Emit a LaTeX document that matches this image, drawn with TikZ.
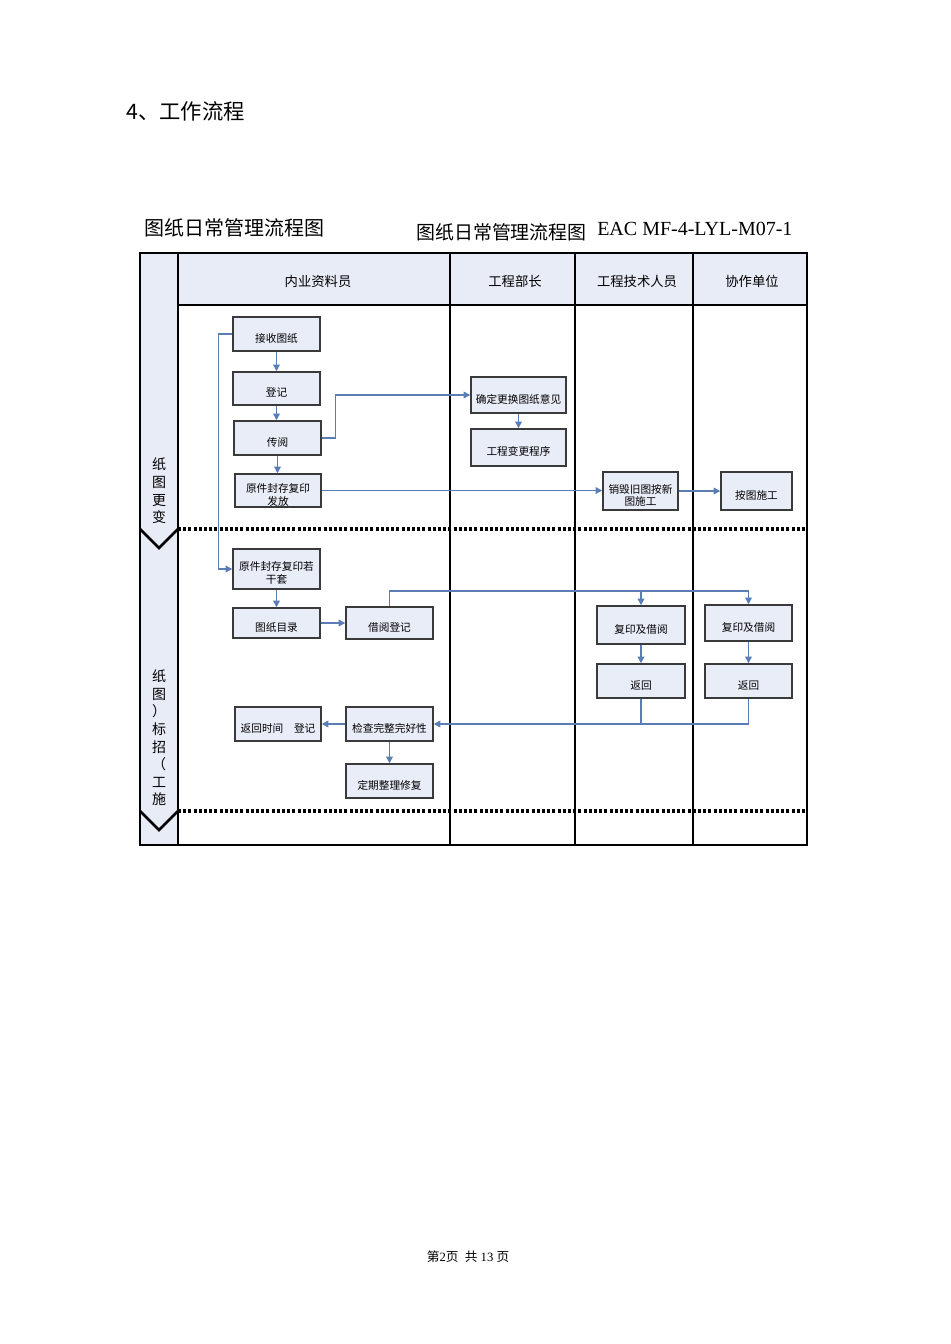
\documentclass[tikz,border=0pt]{standalone}
\usepackage{fontspec}
\setmainfont{Liberation Serif}
\newfontfamily\cjk{Noto Sans CJK SC}
\usetikzlibrary{arrows.meta}
\definecolor{boxfill}{HTML}{E9EDF8}
\definecolor{lanefill}{HTML}{E8ECF7}
\definecolor{conn}{HTML}{5A7DB6}
\definecolor{boxline}{HTML}{3A3A3A}
\tikzset{
  box/.style={draw=boxline, line width=1.1pt, fill=boxfill, inner sep=0pt},
  boxtxt/.style={inner sep=0pt, align=center, font=\cjk\fontsize{8}{9.5}\selectfont},
  arr/.style={draw=conn, line width=1pt, -{Triangle[length=5pt,width=5pt]}},
  plain/.style={draw=conn, line width=1pt},
  grid/.style={draw=black, line width=0.8pt},
  dots/.style={draw=black, line width=2.3pt, dash pattern=on 2.3pt off 1.6pt},
  chev/.style={draw=black, line width=2pt},
  hdr/.style={font=\cjk\fontsize{10}{12}\selectfont, inner sep=0pt},
  lanelbl/.style={font=\cjk\fontsize{10.5}{13.2}\selectfont, align=center, inner sep=0pt}
}
\newcommand\mybox[6]{\node[box, minimum width={(#4-#2)*0.75pt}, minimum height={(#5-#3)*0.75pt}] (#1) at ({(#2+#4)/2},{(#3+#5)/2}) {};
\node[boxtxt] (#1-t) at ([yshift=-3.2pt]#1.center) {#6};}
\begin{document}
\begin{tikzpicture}[x=0.75pt,y=-0.75pt]
\useasboundingbox[fill=white] (0,0) rectangle (950,1344);
% titles
\node[anchor=west, font=\cjk\fontsize{16}{19}\selectfont, inner sep=0pt] (t0) at (126,111) {4、工作流程};
\node[anchor=west, font=\cjk\fontsize{15}{18}\selectfont, inner sep=0pt] (t1) at (144,228) {图纸日常管理流程图};
\node[anchor=west, font=\cjk\fontsize{14.2}{17}\selectfont, inner sep=0pt] (t2) at (416,232) {图纸日常管理流程图};
\node[anchor=west, font=\fontsize{15}{18}\selectfont, inner sep=0pt] (t3) at (597,229) {EAC MF-4-LYL-M07-1};
% table background
\fill[lanefill] (140,253) rectangle (178,845);
\fill[lanefill] (178,253) rectangle (807,305);
\draw[grid] (140,253) rectangle (807,845);
\draw[grid] (178,253) -- (178,845);
\draw[grid] (178,305) -- (807,305);
\draw[grid] (450,253) -- (450,845);
\draw[grid] (575,253) -- (575,845);
\draw[grid] (693,253) -- (693,845);
% headers
\node[hdr] (h1) at (318,281) {内业资料员};
\node[hdr] (h2) at (515,281) {工程部长};
\node[hdr] (h3) at (637,281) {工程技术人员};
\node[hdr] (h4) at (752,281) {协作单位};
% lane labels
\node[lanelbl] (l1) at (159,491) {纸\\图\\更\\变};
\node[lanelbl] (l2) at (159,738) {纸\\图\\）\\标\\招\\（\\工\\施};
% dotted separators and chevrons
\draw[dots] (178,529) -- (807,529);
\draw[dots] (178,811) -- (807,811);
\draw[chev] (140,529) -- (159,548) -- (178,529);
\draw[chev] (140,811) -- (159,830) -- (178,811);
% boxes
\mybox{jieshou}{233}{317}{320}{351}{接收图纸}
\mybox{dengji}{233}{372}{320}{405}{登记}
\mybox{chuanyue}{234}{421}{321}{455}{传阅}
\mybox{fafang}{235}{474}{321}{507}{原件封存复印\\发放}
\mybox{queding}{471}{377}{566}{413}{确定更换图纸意见}
\mybox{biangeng}{471}{429}{566}{466}{工程变更程序}
\mybox{xiaohui}{603}{472}{678}{510}{销毁旧图按新\\图施工}
\mybox{antu}{721}{472}{792}{510}{按图施工}
\mybox{ruogan}{233}{549}{320}{589}{原件封存复印若\\干套}
\mybox{mulu}{233}{608}{320}{638}{图纸目录}
\mybox{jieyue}{346}{607}{433}{639}{借阅登记}
\mybox{fuyinA}{597}{606}{685}{644}{复印及借阅}
\mybox{fuyinB}{705}{605}{792}{641}{复印及借阅}
\mybox{fanhuiA}{597}{664}{685}{698}{返回}
\mybox{fanhuiB}{705}{664}{792}{698}{返回}
\mybox{fhdj}{235}{707}{321}{741}{返回时间\quad 登记}
\mybox{jiancha}{346}{707}{433}{741}{检查完整完好性}
\mybox{xiufu}{346}{764}{433}{798}{定期整理修复}
% connectors
\draw[arr] (jieshou.south) -- (dengji.north);
\draw[arr] (dengji.south) -- (dengji.south |- chuanyue.north);
\draw[arr] (chuanyue.south) -- (chuanyue.south |- fafang.north);
\draw[arr] (chuanyue.east) -- ++(14,0) |- (queding.west);
\draw[arr] (queding.south) -- (biangeng.north);
\draw[arr] (fafang.east) -- (fafang.east -| xiaohui.west);
\draw[arr] (xiaohui.east) -- (xiaohui.east -| antu.west);
\draw[arr] (jieshou.west) -- ++(-14,0) |- (ruogan.west);
\draw[arr] (ruogan.south) -- (mulu.north);
\draw[arr] (mulu.east) -- (mulu.east -| jieyue.west);
\coordinate (bus) at (389,591);
\draw[arr] (jieyue.north) |- (fuyinB.north |- bus) -- (fuyinB.north);
\draw[arr] (fuyinA.north |- bus) -- (fuyinA.north);
\draw[arr] (fuyinA.south) -- (fanhuiA.north);
\draw[arr] (fuyinB.south) -- (fuyinB.south |- fanhuiB.north);
\draw[arr] (fanhuiB.south) |- (jiancha.east);
\draw[plain] (fanhuiA.south) -- (fanhuiA.south |- jiancha.east);
\draw[arr] (jiancha.west) -- (fhdj.east);
\draw[arr] (jiancha.south) -- (xiufu.north);
% footer
\node[font=\fontsize{9.5}{11}\selectfont, inner sep=0pt] (foot) at (468,1257) {{\cjk 第}2{\cjk 页}\enspace{\cjk 共} 13 {\cjk 页}};
\end{tikzpicture}
\end{document}
